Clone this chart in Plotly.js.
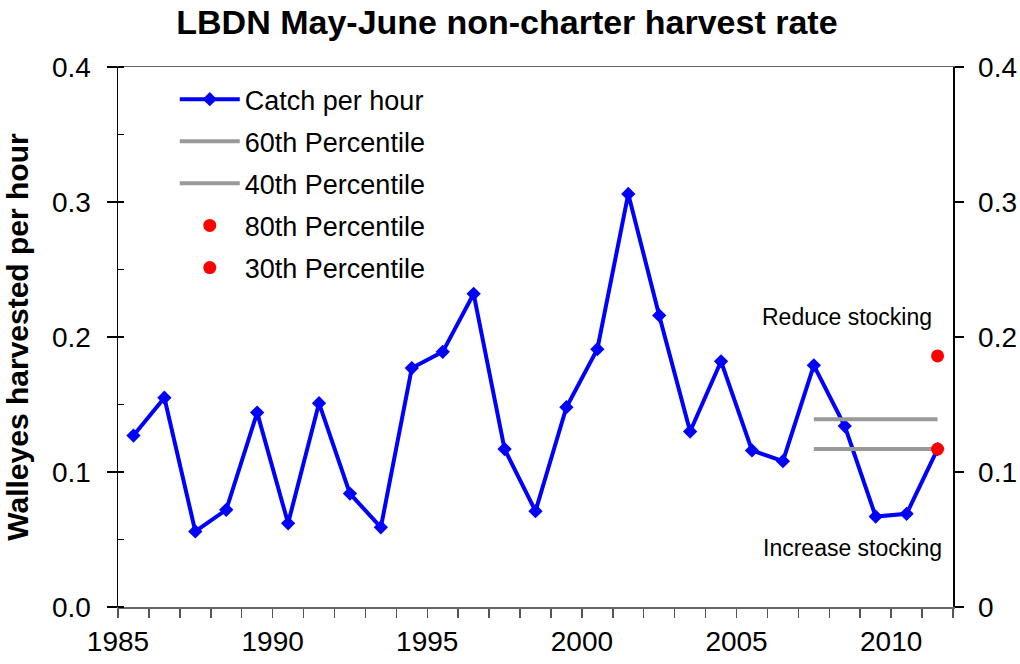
<!DOCTYPE html>
<html>
<head>
<meta charset="utf-8">
<script src="https://cdn.plot.ly/plotly-3.0.1.min.js"></script>
<style>html,body{margin:0;padding:0;background:#fff;}#chart{width:1020px;height:664px;}</style>
</head>
<body>
<div id="chart"></div>
<script>
// ---- data ----
const years = [1985,1986,1987,1988,1989,1990,1991,1992,1993,1994,1995,1996,1997,1998,1999,2000,2001,2002,2003,2004,2005,2006,2007,2008,2009,2010,2011];
const catchPerHour = [0.127,0.155,0.056,0.072,0.144,0.062,0.151,0.084,0.059,0.177,0.189,0.232,0.117,0.071,0.148,0.191,0.306,0.216,0.130,0.182,0.116,0.108,0.179,0.134,0.067,0.069,0.117];
const pctYears = [2007, 2011];
const pct60 = [0.139, 0.139];
const pct40 = [0.117, 0.117];
const dotYear = [2011];
const pct80 = [0.186];
const pct30 = [0.117];
const xTickLabels = ['1985','1990','1995','2000','2005','2010'];
const yLeftLabels = ['0.0','0.1','0.2','0.3','0.4'];
const yRightLabels = ['0','0.1','0.2','0.3','0.4'];
const yTickValues = [0,0.1,0.2,0.3,0.4];

// ---- axis helpers (category boundaries sit half a year before each year) ----
const firstYear = years[0], lastYear = years[years.length-1];
const boundaryVals = [];
const boundaryText = [];
for (let y = firstYear; y <= lastYear + 1; y++) {
  boundaryVals.push(y - 0.5);
  const lbl = String(y);
  boundaryText.push(xTickLabels.indexOf(lbl) >= 0 ? lbl : '');
}

const FONT = "Arial, 'Liberation Sans', sans-serif";

const traces = [
  {x: years, y: catchPerHour, name: 'Catch per hour', type: 'scatter', mode: 'lines+markers',
   line: {color: '#0000FF', width: 4}, marker: {symbol: 'diamond', size: 11, color: '#0000FF'},
   legendgroup: 'a'},
  {x: pctYears, y: pct60, name: '60th Percentile', type: 'scatter', mode: 'lines',
   line: {color: '#999999', width: 4}, legendgroup: 'b'},
  {x: pctYears, y: pct40, name: '40th Percentile', type: 'scatter', mode: 'lines',
   line: {color: '#999999', width: 4}, legendgroup: 'c'},
  {x: dotYear, y: pct80, name: '80th Percentile', type: 'scatter', mode: 'markers',
   marker: {symbol: 'circle', size: 13, color: '#FF0000'}, yaxis: 'y2', legendgroup: 'd'},
  {x: dotYear, y: pct30, name: '30th Percentile', type: 'scatter', mode: 'markers',
   marker: {symbol: 'circle', size: 13, color: '#FF0000'}, yaxis: 'y2', legendgroup: 'e'}
];

const layout = {
  width: 1020, height: 664,
  margin: {l: 118, r: 67, t: 67, b: 57},
  paper_bgcolor: '#ffffff', plot_bgcolor: '#ffffff',
  font: {family: FONT, color: '#000'},
  showlegend: true,
  title: {text: '<b>LBDN May-June non-charter harvest rate</b>', font: {family: FONT, size: 34, color: '#000'},
          xref: 'container', x: 0.497, xanchor: 'center', yref: 'container', y: 0.967, yanchor: 'middle'},
  xaxis: {
    range: [firstYear - 0.5, lastYear + 0.5], tickmode: 'array', tickvals: boundaryVals, ticktext: boundaryText,
    ticks: 'outside', ticklen: 9, tickwidth: 1.5, tickcolor: '#555',
    showline: true, linecolor: '#666', linewidth: 1.5, mirror: true,
    showgrid: false, zeroline: false, tickfont: {size: 28, family: FONT, color: '#000'},
    ticklabelstandoff: 0, fixedrange: true
  },
  yaxis: {
    range: [0, 0.4], tickmode: 'array', tickvals: yTickValues, ticktext: yLeftLabels,
    ticks: 'outside', ticklen: 10, tickwidth: 1.5, tickcolor: '#000',
    minor: {ticks: 'inside', dtick: 0.05, ticklen: 6, tickwidth: 1.5, tickcolor: '#000', showgrid: false},
    showline: true, linecolor: '#000', linewidth: 1.5,
    showgrid: false, zeroline: false, tickfont: {size: 28, family: FONT, color: '#000'},
    ticklabelstandoff: 10,
    title: {text: '<b>Walleyes harvested per hour</b>', font: {size: 30, family: FONT, color: '#000'}, standoff: 14}
  },
  yaxis2: {
    range: [0, 0.4], overlaying: 'y', side: 'right', tickmode: 'array', tickvals: yTickValues, ticktext: yRightLabels,
    ticks: 'outside', ticklen: 9, tickwidth: 1.5, tickcolor: '#000',
    showline: true, linecolor: '#000', linewidth: 1.5,
    showgrid: false, zeroline: false, tickfont: {size: 28, family: FONT, color: '#000'},
    ticklabelstandoff: 9
  },
  legend: {
    x: 0.068, y: 0.985, xanchor: 'left', yanchor: 'top', bgcolor: 'rgba(0,0,0,0)', borderwidth: 0,
    font: {size: 27, family: FONT, color: '#000'}, tracegroupgap: 4, itemwidth: 60, traceorder: 'grouped'
  },
  annotations: [
    {text: 'Reduce stocking', xref: 'paper', yref: 'paper', x: 0.873, y: 0.537, xanchor: 'center', yanchor: 'middle', showarrow: false,
     font: {size: 23, family: FONT, color: '#000'}},
    {text: 'Increase stocking', xref: 'paper', yref: 'paper', x: 0.880, y: 0.109, xanchor: 'center', yanchor: 'middle', showarrow: false,
     font: {size: 23, family: FONT, color: '#000'}}
  ]
};

Plotly.newPlot('chart', traces, layout, {staticPlot: true, displayModeBar: false});
</script>
</body>
</html>
